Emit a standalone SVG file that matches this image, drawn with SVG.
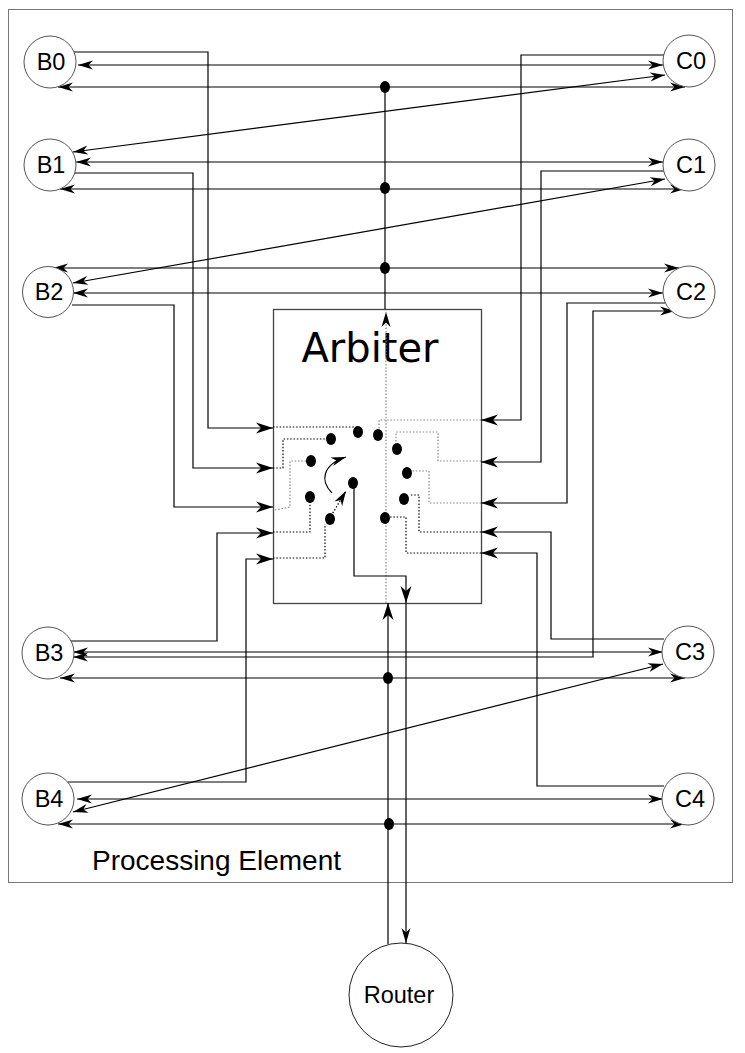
<svg xmlns="http://www.w3.org/2000/svg" width="745" height="1053" viewBox="0 0 745 1053">
<defs>
<marker id="ah" markerUnits="userSpaceOnUse" markerWidth="16" markerHeight="10" refX="15" refY="5" orient="auto-start-reverse" viewBox="0 0 16 10">
<path d="M0,0.5 L15,5 L0,9.5 L4.5,5 Z" fill="#000"/>
</marker>
<marker id="ahb" markerUnits="userSpaceOnUse" markerWidth="18" markerHeight="12" refX="17" refY="6" orient="auto-start-reverse" viewBox="0 0 18 12">
<path d="M0,0.5 L17,6 L0,11.5 L5,6 Z" fill="#000"/>
</marker>
</defs>
<style>
.node{fill:#fff;stroke:#555;stroke-width:1}
.lbl{font-family:"Liberation Sans",Arial,sans-serif;font-size:23.5px;fill:#000;text-anchor:middle}
.ln{fill:none;stroke:#000;stroke-width:1.2}
.bi{marker-start:url(#ah);marker-end:url(#ah)}
.one{marker-end:url(#ah)}
.port{marker-end:url(#ahb)}
.dk{fill:none;stroke:#000;stroke-width:1.2;stroke-dasharray:1.5 1.8}
.gy{fill:none;stroke:#888;stroke-width:1.2;stroke-dasharray:1.5 1.8}
.dot{fill:#000}
</style>
<rect x="8.5" y="9.5" width="724" height="873" fill="#fff" stroke="#777" stroke-width="1"/>
<text x="92" y="870" style="font-family:'Liberation Sans',Arial,sans-serif;font-size:28px;fill:#000">Processing Element</text>

<g id="arbiter">
<rect x="273.5" y="309.5" width="208" height="294" fill="none" stroke="#444" stroke-width="1.3"/>
<text x="370" y="362" style="font-family:'DejaVu Sans',sans-serif;font-size:40px;fill:#000;text-anchor:middle">Arbiter</text>
<path class="dk" d="M273,427 H357 V432"/>
<path class="dk" d="M273,468 H283 V439 H326"/>
<path class="gy" d="M275,510 L290,507 V461 H306"/>
<path class="dk" d="M273,532 H310 V502"/>
<path class="dk" d="M273,558 H325 V524"/>
<path class="gy" d="M481,420 H379 V430"/>
<path class="gy" d="M481,461 H438 V432 H396 V444"/>
<path class="gy" d="M481,503 H429 V471 H412"/>
<path class="dk" d="M481,532 H419 V495 H409"/>
<path class="dk" d="M481,553 H406 V517 H390"/>
<path class="gy" d="M386,603 V312" style="marker-end:url(#ah)"/>
<path class="ln" d="M332,493 C320,481 322,465 346,457" style="marker-end:url(#ah)"/>
<path class="dk" d="M331,516 L346,491" style="marker-end:url(#ah)"/>
<ellipse class="dot" cx="358" cy="432" rx="5" ry="6"/>
<ellipse class="dot" cx="378" cy="435" rx="5" ry="6"/>
<ellipse class="dot" cx="331" cy="439" rx="5" ry="6"/>
<ellipse class="dot" cx="397" cy="449" rx="5" ry="6"/>
<ellipse class="dot" cx="311" cy="461" rx="5" ry="6"/>
<ellipse class="dot" cx="407" cy="473" rx="5" ry="6"/>
<ellipse class="dot" cx="353" cy="483" rx="5" ry="6"/>
<ellipse class="dot" cx="310" cy="497" rx="5" ry="6"/>
<ellipse class="dot" cx="404" cy="499" rx="5" ry="6"/>
<ellipse class="dot" cx="330" cy="519" rx="5" ry="6"/>
<ellipse class="dot" cx="385" cy="518" rx="5" ry="6"/>
</g>

<g id="connectors">
<path class="ln port" d="M74,52 H208 V428 H273"/>
<path class="ln port" d="M75,173 H193 V468 H273"/>
<path class="ln port" d="M72,305 H174 V507 H273"/>
<path class="ln port" d="M71,641 H217 V533 H273"/>
<path class="ln port" d="M68,782 H246 V559 H273"/>
<path class="ln port" d="M664,55 H521 V420 H481"/>
<path class="ln port" d="M665,171 H541 V462 H481"/>
<path class="ln port" d="M665,303 H567 V503 H481"/>
<path class="ln port" d="M664,639 H551 V532 H481"/>
<path class="ln port" d="M664,786 H537 V553 H481"/>

<path class="ln bi" d="M78,65 H663"/>
<path class="ln bi" d="M58,87 H685"/>
<path class="ln bi" d="M73,152 L665,75"/>
<path class="ln bi" d="M76,162 H663"/>
<path class="ln bi" d="M60,189 H685"/>
<path class="ln bi" d="M73,283 L665,179"/>
<path class="ln bi" d="M53,268 H679"/>
<path class="ln bi" d="M73,293 H663"/>
<path class="ln bi" d="M73,657 H593 V311 H675"/>
<path class="ln bi" d="M73,652 H663"/>
<path class="ln bi" d="M60,678 H685"/>
<path class="ln bi" d="M73,812 L663,664"/>
<path class="ln bi" d="M77,799 H663"/>
<path class="ln bi" d="M58,824 H685"/>

<path class="ln" d="M385,87 V309"/>
<path class="ln" d="M388,944 V603" style="marker-end:url(#ahb)"/>
<path class="ln" d="M354,483 V576 H406 V603" style="marker-end:url(#ahb)"/>
<path class="ln" d="M406,603 V943" style="marker-end:url(#ah)"/>
<ellipse class="dot" cx="385" cy="87" rx="5" ry="6"/>
<ellipse class="dot" cx="385" cy="188" rx="5" ry="6"/>
<ellipse class="dot" cx="385" cy="268" rx="5" ry="6"/>
<ellipse class="dot" cx="388" cy="678" rx="5" ry="6"/>
<ellipse class="dot" cx="389" cy="824" rx="5" ry="6"/>
</g>

<g id="B0"><circle class="node" cx="50" cy="62" r="26"/><text class="lbl" x="51" y="70">B0</text></g>
<g id="B1"><circle class="node" cx="50" cy="165" r="26"/><text class="lbl" x="51" y="173">B1</text></g>
<g id="B2"><circle class="node" cx="48" cy="292" r="25.5"/><text class="lbl" x="49" y="300">B2</text></g>
<g id="B3"><circle class="node" cx="48" cy="653" r="26"/><text class="lbl" x="49" y="661">B3</text></g>
<g id="B4"><circle class="node" cx="48" cy="799" r="26"/><text class="lbl" x="49" y="807">B4</text></g>
<g id="C0"><circle class="node" cx="689" cy="61" r="26"/><text class="lbl" x="691" y="69">C0</text></g>
<g id="C1"><circle class="node" cx="689" cy="165" r="26"/><text class="lbl" x="691" y="173">C1</text></g>
<g id="C2"><circle class="node" cx="689" cy="292" r="26"/><text class="lbl" x="691" y="300">C2</text></g>
<g id="C3"><circle class="node" cx="688" cy="652" r="26"/><text class="lbl" x="690" y="660">C3</text></g>
<g id="C4"><circle class="node" cx="688" cy="799" r="26"/><text class="lbl" x="690" y="807">C4</text></g>
<g id="Router"><circle class="node" cx="401" cy="995" r="52" style="stroke:#222"/><text class="lbl" x="399" y="1003">Router</text></g>
</svg>
